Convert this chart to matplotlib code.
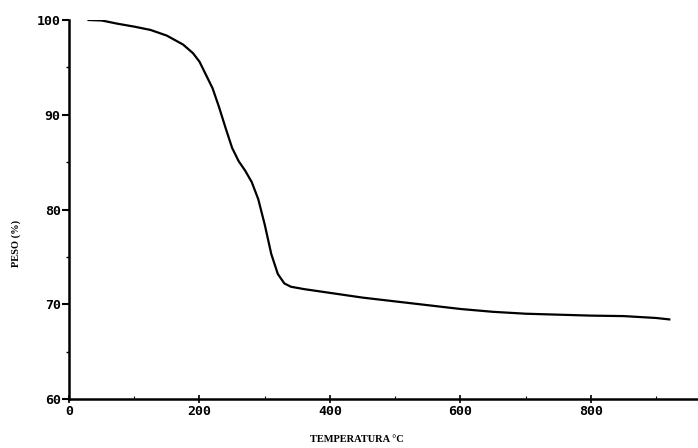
import matplotlib
matplotlib.use("Agg")
import matplotlib.pyplot as plt
from matplotlib.ticker import MultipleLocator

temperature = [30, 50, 75, 100, 125, 150, 175, 190, 200, 210,
               220, 230, 240, 250, 260, 270, 280, 290, 300, 310,
               320, 330, 340, 360, 400, 450, 500, 550, 600, 650,
               700, 750, 800, 850, 900, 920]
weight = [100.0, 99.95, 99.6, 99.3, 98.95, 98.35, 97.4, 96.5, 95.6, 94.2,
          92.8, 90.8, 88.6, 86.5, 85.1, 84.1, 82.9, 81.1, 78.4, 75.3,
          73.2, 72.2, 71.85, 71.6, 71.2, 70.7, 70.3, 69.9, 69.5, 69.2,
          69.0, 68.9, 68.8, 68.75, 68.55, 68.4]

x_ticks = [0, 200, 400, 600, 800]
y_ticks = [60, 70, 80, 90, 100]

fig = plt.figure(figsize=(6.98, 4.48), dpi=100)
ax = fig.add_axes([69/698, 1-399/448, 1-69/698, (399-20)/448])
ax.plot(temperature, weight, color="black", lw=1.6)

ax.set_xlim(0, 964)
ax.set_ylim(60, 100)
ax.set_xticks(x_ticks)
ax.set_yticks(y_ticks)
ax.xaxis.set_minor_locator(MultipleLocator(100))
ax.yaxis.set_minor_locator(MultipleLocator(5))
for s in ["top", "right"]:
    ax.spines[s].set_visible(False)
for s in ["left", "bottom"]:
    ax.spines[s].set_linewidth(1.8)

tick_font = dict(family="DejaVu Sans Mono", weight="bold", size=9.5)
ax.set_xticklabels([str(v) for v in x_ticks], **tick_font)
ax.set_yticklabels([str(v) for v in y_ticks], **tick_font)
ax.tick_params(axis="y", which="major", direction="out", length=5, width=1.5, pad=1)
ax.tick_params(axis="y", which="minor", direction="out", length=2, width=1)
ax.tick_params(axis="x", which="major", direction="inout", length=6, width=1.2, pad=1)
ax.tick_params(axis="x", which="minor", direction="in", length=2, width=0.8)

ax.set_xlabel("TEMPERATURA °C", family="Liberation Serif", weight="bold", size=7.5)
ax.xaxis.set_label_coords((357-69)/(698-69), -0.095)
ax.set_ylabel("PESO (%)", family="Liberation Serif", weight="bold", size=7.5)
ax.yaxis.set_label_coords(-(69-21)/(698-69), (399-243)/(399-20))

fig.savefig("out.png", dpi=100)
